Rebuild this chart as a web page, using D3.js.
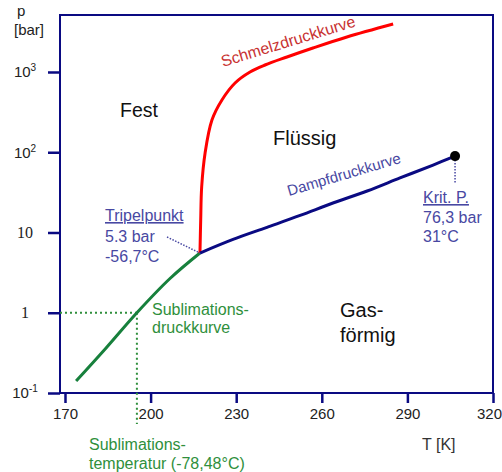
<!DOCTYPE html>
<html>
<head>
<meta charset="utf-8">
<script src="https://cdn.jsdelivr.net/npm/d3@7"></script>
<style>
  body { margin: 0; background: #fff; }
  text { font-family: "Liberation Sans", Arial, sans-serif; }
</style>
</head>
<body>
<script>
// Phasendiagramm CO2 (p log, T linear)
var tempTicks = [170, 200, 230, 260, 290, 320];
var pTicks = [0.1, 1, 10, 100, 1000];
var pTickBase = ["10", "1", "10", "10", "10"];
var pTickExp = ["-1", "", "", "2", "3"];

// Sublimationsdruckkurve
var sublimT = [173.9, 184.4, 195.2, 206.8, 217.3];
var sublimP = [0.141, 0.364, 1, 2.67, 5.55];
// Schmelzdruckkurve
var meltT = [217.3, 217.56, 217.9, 219.1, 221.5, 225.0, 229.6, 234.85, 240.1, 247.8, 256.9, 268.8, 285.0];
var meltP = [5.55, 14.3, 36.9, 98, 252, 448, 730, 1000, 1222, 1538, 1990, 2730, 3960];
// Dampfdruckkurve
var vapT = [217.3, 228.9, 240.8, 252.4, 263.9, 275.9, 287.4, 299.0, 306.7];
var vapP = [5.55, 8.2, 11.6, 16.3, 23.3, 32.9, 47.8, 69.3, 89.5];

var triple = [217.3, 5.55];
var critical = [306.7, 89.5];
var sublimTemp = 195.2; // bei 1 bar

var navy = "#0a0a82";
var annoBlue = "#4848a2";
var green = "#17803c";
var greenText = "#2f8f3c";

var svg = d3.select("body").append("svg")
  .attr("width", 502)
  .attr("height", 472);

var x = d3.scaleLinear().domain([168.25, 320]).range([60, 493]);
var y = d3.scaleLog().domain([0.1, 5130]).range([393, 15]);

// x axis
var xAxis = svg.append("g")
  .attr("transform", "translate(0," + y.range()[0] + ")")
  .call(d3.axisBottom(x).tickValues(tempTicks).tickSize(10).tickPadding(5).tickSizeOuter(0).tickFormat(d3.format("d")));
xAxis.select(".domain").remove();
xAxis.selectAll("line").attr("stroke", navy).attr("stroke-width", 2.5);
xAxis.selectAll("text").attr("font-size", 15).attr("fill", "#222")
  .style("font-family", "'Liberation Sans', Arial, sans-serif")
  .attr("dx", function (d) { return d === 320 ? -4 : 0; });

// y axis
var yAxis = svg.append("g")
  .attr("transform", "translate(" + x.range()[0] + ",0)")
  .call(d3.axisLeft(y).tickValues(pTicks).tickSize(12).tickSizeOuter(0));
yAxis.select(".domain").remove();
yAxis.selectAll("line").attr("stroke", navy).attr("stroke-width", 2.5);
yAxis.selectAll("text").each(function (d, i) {
  var t = d3.select(this).text("")
    .attr("x", -35)
    .attr("text-anchor", "middle")
    .attr("font-size", 15)
    .attr("fill", "#222");
  if (pTickExp[i] === "") {
    t.style("font-family", "'Liberation Serif', 'Times New Roman', serif").attr("font-size", 16);
  }
  t.append("tspan").text(pTickBase[i]);
  if (pTickExp[i] !== "") {
    t.append("tspan").attr("font-size", 10).attr("dy", -6).text(pTickExp[i]);
  }
});

// frame
svg.append("rect")
  .attr("x", x.range()[0])
  .attr("y", y.range()[1])
  .attr("width", x.range()[1] - x.range()[0])
  .attr("height", y.range()[0] - y.range()[1])
  .attr("fill", "none")
  .attr("stroke", navy)
  .attr("stroke-width", 2);

// axis titles
svg.append("text").attr("x", 17).attr("y", 16).attr("font-size", 15).attr("fill", "#222").text("p");
svg.append("text").attr("x", 14).attr("y", 35).attr("font-size", 15).attr("fill", "#222").text("[bar]");
svg.append("text").attr("x", 422).attr("y", 450).attr("font-size", 16).attr("fill", "#333").text("T [K]");

// dotted guides for sublimation temperature
svg.append("line")
  .attr("x1", x.range()[0]).attr("y1", y(1))
  .attr("x2", x(sublimTemp)).attr("y2", y(1))
  .attr("stroke", greenText).attr("stroke-width", 2).attr("stroke-dasharray", "2,3");
svg.append("line")
  .attr("x1", x(sublimTemp)).attr("y1", y(1))
  .attr("x2", x(sublimTemp)).attr("y2", 424)
  .attr("stroke", greenText).attr("stroke-width", 2).attr("stroke-dasharray", "2,3");

var line = d3.line()
  .x(function (d) { return x(d[0]); })
  .y(function (d) { return y(d[1]); })
  .curve(d3.curveCatmullRom);

svg.append("path").datum(d3.zip(sublimT, sublimP))
  .attr("d", line).attr("fill", "none").attr("stroke", green).attr("stroke-width", 3);
svg.append("path").datum(d3.zip(meltT, meltP))
  .attr("d", line).attr("fill", "none").attr("stroke", "#ff0000").attr("stroke-width", 3);
svg.append("path").datum(d3.zip(vapT, vapP))
  .attr("d", line).attr("fill", "none").attr("stroke", navy).attr("stroke-width", 3);

// triple point pointer
svg.append("line")
  .attr("x1", 167).attr("y1", 237)
  .attr("x2", x(triple[0])).attr("y2", y(triple[1]))
  .attr("stroke", annoBlue).attr("stroke-width", 1.5).attr("stroke-dasharray", "1.5,1.5");

// critical point
svg.append("line")
  .attr("x1", x(critical[0])).attr("y1", y(critical[1]) + 4)
  .attr("x2", x(critical[0])).attr("y2", 184)
  .attr("stroke", annoBlue).attr("stroke-width", 1.5).attr("stroke-dasharray", "1.5,1.5");
svg.append("circle")
  .attr("cx", x(critical[0])).attr("cy", y(critical[1]))
  .attr("r", 5).attr("fill", "#000");

// curve labels
svg.append("text")
  .attr("transform", "translate(223,67) rotate(-17)")
  .attr("font-size", 16).attr("fill", "#c83232").text("Schmelzdruckkurve");
svg.append("text")
  .attr("transform", "translate(289,196) rotate(-16.5)")
  .attr("font-size", 15).attr("fill", annoBlue).text("Dampfdruckkurve");

// phase labels
svg.append("text").attr("x", 120).attr("y", 117).attr("font-size", 19.5).attr("fill", "#111").text("Fest");
svg.append("text").attr("x", 273).attr("y", 145).attr("font-size", 20).attr("fill", "#111").text("Flüssig");
svg.append("text").attr("x", 340).attr("y", 317).attr("font-size", 20).attr("fill", "#111").text("Gas-");
svg.append("text").attr("x", 340).attr("y", 342).attr("font-size", 20).attr("fill", "#111").text("förmig");

// triple point annotation
svg.append("text").attr("x", 105).attr("y", 221).attr("font-size", 16).attr("fill", annoBlue)
  .style("text-decoration", "underline").text("Tripelpunkt");
svg.append("text").attr("x", 105).attr("y", 242).attr("font-size", 16).attr("fill", annoBlue).text("5.3 bar");
svg.append("text").attr("x", 105).attr("y", 262).attr("font-size", 16).attr("fill", annoBlue).text("-56,7°C");

// critical point annotation
svg.append("text").attr("x", 423).attr("y", 203).attr("font-size", 16).attr("fill", annoBlue)
  .style("text-decoration", "underline").text("Krit. P.");
svg.append("text").attr("x", 423).attr("y", 223).attr("font-size", 16).attr("fill", annoBlue).text("76,3 bar");
svg.append("text").attr("x", 423).attr("y", 242).attr("font-size", 16).attr("fill", annoBlue).text("31°C");

// sublimation labels
svg.append("text").attr("x", 152).attr("y", 315).attr("font-size", 16).attr("fill", greenText).text("Sublimations-");
svg.append("text").attr("x", 152).attr("y", 333).attr("font-size", 16).attr("fill", greenText).text("druckkurve");
svg.append("text").attr("x", 89).attr("y", 450).attr("font-size", 16).attr("fill", greenText).text("Sublimations-");
svg.append("text").attr("x", 89).attr("y", 469).attr("font-size", 16).attr("fill", greenText).text("temperatur (-78,48°C)");
</script>
</body>
</html>
